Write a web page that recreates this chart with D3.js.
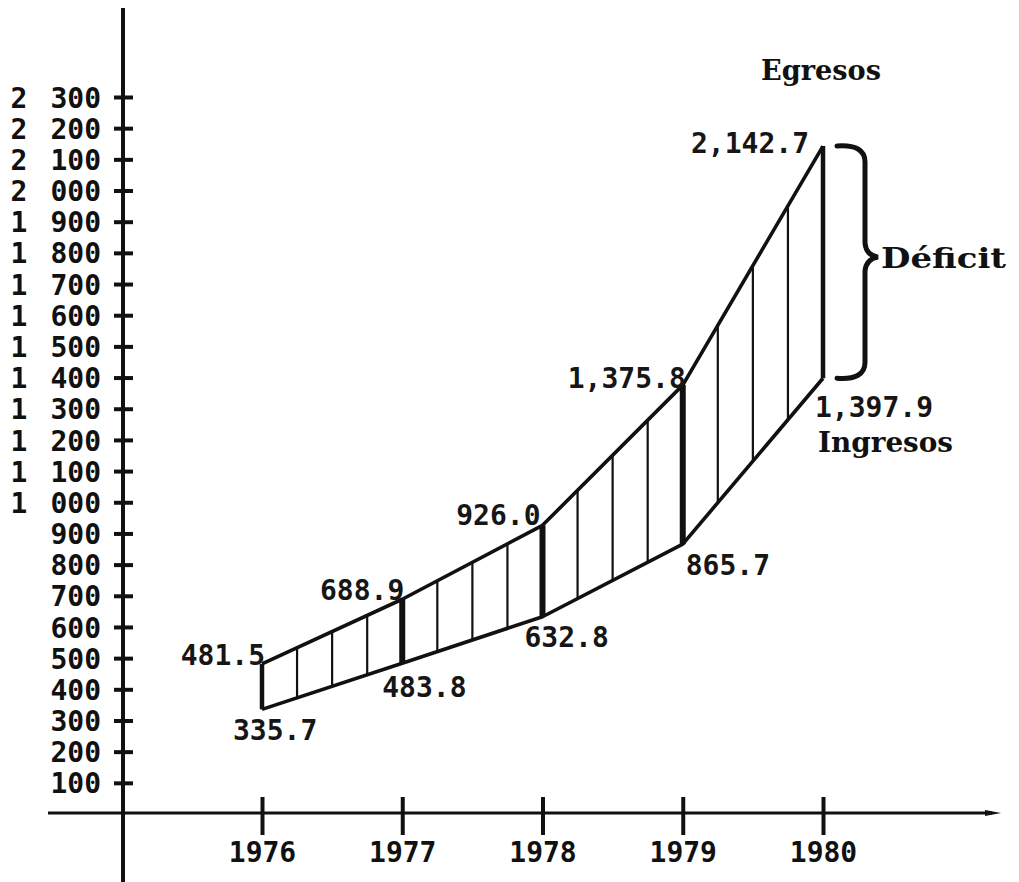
<!DOCTYPE html>
<html>
<head>
<meta charset="utf-8">
<script src="https://cdn.jsdelivr.net/npm/d3@7"></script>
<style>
  html, body { margin: 0; padding: 0; background: #fff; }
  svg { display: block; }
  .num { font-family: "DejaVu Sans Mono", monospace; font-size: 28px; font-weight: bold; fill: #161616; }
  .tick-lbl { font-family: "DejaVu Sans Mono", monospace; font-size: 28px; font-weight: bold; fill: #111; }
  .year-lbl { font-family: "DejaVu Sans Mono", monospace; font-size: 28px; font-weight: bold; fill: #111; }
  .word { font-family: "DejaVu Serif", serif; font-size: 25px; font-weight: bold; fill: #111; }
</style>
</head>
<body>
<svg id="chart" width="1019" height="882"></svg>
<script>
// ---- data ----
const years = [1976, 1977, 1978, 1979, 1980];
const egresos = [481.5, 688.9, 926.0, 1375.8, 2142.7];
const ingresos = [335.7, 483.8, 632.8, 865.7, 1397.9];
const egresosLabels = ["481.5", "688.9", "926.0", "1,375.8", "2,142.7"];
const ingresosLabels = ["335.7", "483.8", "632.8", "865.7", "1,397.9"];
const yTickValues = [100, 200, 300, 400, 500, 600, 700, 800, 900, 1000, 1100, 1200, 1300, 1400, 1500, 1600, 1700, 1800, 1900, 2000, 2100, 2200, 2300];
const yTickLabels = ["100", "200", "300", "400", "500", "600", "700", "800", "900", "1 000", "1 100", "1 200", "1 300", "1 400", "1 500", "1 600", "1 700", "1 800", "1 900", "2 000", "2 100", "2 200", "2 300"];
const seriesNames = ["Egresos", "Ingresos"];
const gapName = "Déficit";

// ---- layout (label offsets relative to points) ----
const egresosLabelPos = [
  {dx: 3, dy: 1, anchor: "end"},
  {dx: 2, dy: 1, anchor: "end"},
  {dx: -2, dy: 0, anchor: "end"},
  {dx: 3, dy: 3, anchor: "end"},
  {dx: -14, dy: 7, anchor: "end"}
];
const ingresosLabelPos = [
  {dx: -29, dy: 31, anchor: "start"},
  {dx: -20, dy: 34, anchor: "start"},
  {dx: -18, dy: 30, anchor: "start"},
  {dx: 3, dy: 31, anchor: "start"},
  {dx: -8, dy: 39, anchor: "start"}
];

const svg = d3.select("#chart");
const x = d3.scaleLinear().domain([1976, 1980]).range([262, 823]);
const y = d3.scaleLinear().domain([0, 2300]).range([814, 97]);
const axisX = 123, axisY = 813;

// ---- hatched area between the two series ----
const area = d3.area()
  .x((d, i) => x(years[i]))
  .y0((d, i) => y(ingresos[i]))
  .y1((d, i) => y(egresos[i]));

svg.append("clipPath").attr("id", "gapClip")
  .append("path").attr("d", area(years));

const hatchX = [];
for (let i = 0; i < years.length - 1; i++) {
  for (let k = 1; k < 4; k++) hatchX.push(years[i] + k / 4);
}
const hatch = svg.append("g").attr("clip-path", "url(#gapClip)");
hatch.selectAll("line.thin").data(hatchX).join("line")
  .attr("x1", d => x(d)).attr("x2", d => x(d))
  .attr("y1", 0).attr("y2", 882)
  .attr("stroke", "#111").attr("stroke-width", 2.2);
// thick vertical line at each year, from ingresos to egresos
svg.selectAll("line.yr").data(years).join("line")
  .attr("x1", d => x(d)).attr("x2", d => x(d))
  .attr("y1", (d, i) => y(ingresos[i])).attr("y2", (d, i) => y(egresos[i]))
  .attr("stroke", "#111").attr("stroke-width", (d, i) => (i === 0 || i === years.length - 1) ? 4.5 : 6);

// ---- series lines ----
const lineE = d3.line().x((d, i) => x(years[i])).y(d => y(d));
svg.append("path").attr("d", lineE(egresos))
  .attr("fill", "none").attr("stroke", "#111").attr("stroke-width", 3.6).attr("stroke-linejoin", "round");
svg.append("path").attr("d", lineE(ingresos))
  .attr("fill", "none").attr("stroke", "#111").attr("stroke-width", 3.6).attr("stroke-linejoin", "round");

// ---- y axis ----
svg.append("line").attr("x1", axisX).attr("x2", axisX).attr("y1", 8).attr("y2", 882)
  .attr("stroke", "#111").attr("stroke-width", 4);
const yAxisG = svg.append("g").attr("transform", `translate(${axisX},0)`)
  .call(d3.axisLeft(y).tickValues(yTickValues).tickFormat("").tickSize(0));
yAxisG.select(".domain").remove();
yAxisG.selectAll(".tick line")
  .attr("x1", -9).attr("x2", 10).attr("stroke", "#111").attr("stroke-width", 4);
yAxisG.selectAll(".tick").each(function(d, i) {
  const parts = yTickLabels[i].split(" ");
  const g = d3.select(this);
  g.append("text").attr("class", "tick-lbl")
    .attr("x", -22).attr("dy", "0.36em").attr("text-anchor", "end")
    .text(parts[parts.length - 1]);
  if (parts.length > 1) {
    g.append("text").attr("class", "tick-lbl")
      .attr("x", -104).attr("dy", "0.36em").attr("text-anchor", "middle")
      .text(parts[0]);
  }
});

// ---- x axis ----
svg.append("line").attr("x1", 48).attr("x2", 992).attr("y1", axisY).attr("y2", axisY)
  .attr("stroke", "#111").attr("stroke-width", 3.2);
svg.append("path").attr("d", `M985,${axisY - 3}L1001,${axisY}L985,${axisY + 3}Z`).attr("fill", "#111");
const xAxisG = svg.append("g").attr("transform", `translate(0,${axisY})`)
  .call(d3.axisBottom(x).tickValues(years).tickFormat(d3.format("d")).tickSize(0));
xAxisG.select(".domain").remove();
xAxisG.selectAll(".tick line")
  .attr("y1", -16).attr("y2", 22).attr("stroke", "#111").attr("stroke-width", 4);
xAxisG.selectAll(".tick text")
  .attr("class", "year-lbl").attr("y", 49).attr("dy", 0)
  .attr("font-family", null).attr("font-size", null).attr("fill", null);
xAxisG.attr("font-family", null).attr("font-size", null);

// ---- value labels ----
svg.selectAll("text.elbl").data(egresos).join("text")
  .attr("class", "num")
  .attr("x", (d, i) => x(years[i]) + egresosLabelPos[i].dx)
  .attr("y", (d, i) => y(d) + egresosLabelPos[i].dy)
  .attr("text-anchor", (d, i) => egresosLabelPos[i].anchor)
  .text((d, i) => egresosLabels[i]);
svg.selectAll("text.ilbl").data(ingresos).join("text")
  .attr("class", "num")
  .attr("x", (d, i) => x(years[i]) + ingresosLabelPos[i].dx)
  .attr("y", (d, i) => y(d) + ingresosLabelPos[i].dy)
  .attr("text-anchor", (d, i) => ingresosLabelPos[i].anchor)
  .text((d, i) => ingresosLabels[i]);

// ---- series names ----
function word(txt, px, py, len) {
  svg.append("text").attr("class", "word")
    .attr("transform", `translate(${px},${py}) scale(1,1.15)`)
    .attr("textLength", len).attr("lengthAdjust", "spacingAndGlyphs")
    .text(txt);
}
const last = years.length - 1;
word(seriesNames[0], x(years[last]) - 62, 80, 120);
word(seriesNames[1], x(years[last]) - 5, y(ingresos[last]) + 74, 135);

// ---- brace for deficit ----
const yT = y(egresos[last]), yB = y(ingresos[last]), yM = (yT + yB) / 2 - 5;
const bx0 = x(years[last]) + 14, bx1 = x(years[last]) + 42, bxp = x(years[last]) + 55;
svg.append("path")
  .attr("d", `M${bx0},${yT} Q${bx1},${yT - 2} ${bx1},${yT + 16} L${bx1},${yM - 14} Q${bx1 + 1},${yM - 2} ${bxp},${yM}` +
             ` Q${bx1 + 1},${yM + 2} ${bx1},${yM + 14} L${bx1},${yB - 16} Q${bx1},${yB + 2} ${bx0},${yB}`)
  .attr("fill", "none").attr("stroke", "#111").attr("stroke-width", 5).attr("stroke-linecap", "round");
word(gapName, bxp + 3, yM + 11, 125);
</script>
</body>
</html>
